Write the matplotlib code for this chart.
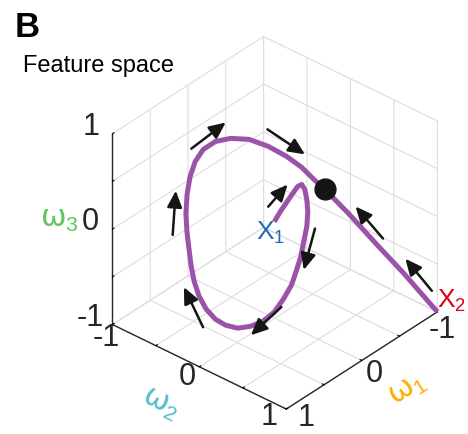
import numpy as np
import matplotlib.pyplot as plt
from matplotlib.patches import FancyArrowPatch
from mpl_toolkits.mplot3d import proj3d

plt.rcParams['font.family'] = ['Liberation Sans', 'DejaVu Sans']
plt.rcParams['mathtext.fontset'] = 'custom'
plt.rcParams['mathtext.rm'] = 'Liberation Sans'
plt.rcParams['mathtext.it'] = 'Liberation Sans'
plt.rcParams['mathtext.sf'] = 'Liberation Sans'

# trajectory from X1 round the loop into the fixed point (w1, w2, w3)
traj1_w1 = [0.128, 0.082, 0.037, -0.009, -0.046, -0.073, -0.087, -0.091, -0.087, -0.068,
            -0.036, -0.005, 0.031, 0.075, 0.137, 0.205, 0.281, 0.360, 0.443, 0.515,
            0.573, 0.621, 0.654, 0.672, 0.677, 0.676, 0.674, 0.665, 0.642, 0.608,
            0.564, 0.504, 0.422, 0.326, 0.214, 0.101, -0.003, -0.087, -0.157, -0.212]
traj1_w2 = [0.104, 0.134, 0.165, 0.196, 0.222, 0.246, 0.268, 0.288, 0.303, 0.308,
            0.300, 0.293, 0.277, 0.257, 0.217, 0.170, 0.108, 0.037, -0.043, -0.120,
            -0.187, -0.251, -0.304, -0.346, -0.377, -0.401, -0.426, -0.446, -0.453, -0.448,
            -0.427, -0.387, -0.317, -0.226, -0.112, 0.012, 0.132, 0.233, 0.324, 0.393]
traj1_w3 = [0.122, 0.218, 0.303, 0.388, 0.455, 0.473, 0.423, 0.324, 0.207, 0.061,
            -0.084, -0.229, -0.355, -0.499, -0.633, -0.756, -0.840, -0.884, -0.898, -0.864,
            -0.802, -0.700, -0.571, -0.422, -0.265, -0.108, 0.059, 0.235, 0.420, 0.594,
            0.739, 0.853, 0.926, 0.950, 0.933, 0.857, 0.752, 0.639, 0.507, 0.415]

# trajectory from X2 into the fixed point
traj2_w1 = [-1.0, -0.766, -0.574, -0.384, -0.212]
traj2_w2 = [1.0, 0.811, 0.664, 0.524, 0.393]
traj2_w3 = [-1.0, -0.555, -0.217, 0.123, 0.415]

fixed_pt = (-0.212, 0.393, 0.415)

# flow arrows: tail and head
arrow_tail = [(0.354, -0.654, 0.667), (-0.061, -0.139, 0.886), (0.148, 0.052, 0.267),
              (0.763, -0.513, 0.034), (-0.113, 0.363, 0.042), (0.201, 0.249, -0.670),
              (0.683, -0.233, -0.850), (-0.612, 0.712, -0.162), (-0.966, 0.966, -0.777)]
arrow_head = [(0.142, -0.442, 0.927), (-0.292, 0.092, 0.608), (0.029, 0.171, 0.491),
              (0.744, -0.494, 0.496), (-0.044, 0.294, -0.386), (0.389, 0.061, -0.953),
              (0.801, -0.351, -0.422), (-0.443, 0.543, 0.185), (-0.803, 0.803, -0.430)]

ticks = [-1, -0.5, 0, 0.5, 1]
label_vals = [-1, 0, 1]
label_txt = ['-1', '0', '1']

purple = '#9b52a9'
ink = '#262626'


class Arrow3D(FancyArrowPatch):
    def __init__(self, xs, ys, zs, *args, **kwargs):
        super().__init__((0, 0), (0, 0), *args, **kwargs)
        self._verts3d = xs, ys, zs

    def do_3d_projection(self, renderer=None):
        xs3d, ys3d, zs3d = self._verts3d
        xs, ys, zs = proj3d.proj_transform(xs3d, ys3d, zs3d, self.axes.M)
        self.set_positions((xs[0], ys[0]), (xs[1], ys[1]))
        return np.min(zs)


fig = plt.figure(figsize=(4.68, 4.35), dpi=100)
ax = fig.add_axes([0.1766, 0.044, 0.8, 0.86], projection='3d', proj_type='ortho')
ax.computed_zorder = False
ax.view_init(elev=34, azim=41)
ax.set_box_aspect((1, 1, 1), zoom=1.035)
ax.set_xlim(-1, 1)
ax.set_ylim(-1, 1)
ax.set_zlim(-1, 1)

for a in (ax.xaxis, ax.yaxis, ax.zaxis):
    a.set_pane_color((1, 1, 1, 0))
    a.pane.set_edgecolor('#d9d9d9')
    a._axinfo['grid'].update(color='#dddddd', linewidth=0.8)
    a._axinfo['tick']['inward_factor'] = 0.0
    a._axinfo['tick']['outward_factor'] = 0.12
    a.line.set_color(ink)
    a.line.set_linewidth(1.0)
    a.set_ticks(ticks)
    a.set_ticklabels([])
    for tk in a.get_major_ticks():
        tk.label1.set_visible(False)
        tk.label2.set_visible(False)
    a.label.set_visible(False)

# tick labels placed like the MATLAB original
for v, s in zip(label_vals, label_txt):
    ax.text(0.9 * v + 0.08, 1.21, -1, s, fontsize=22, color=ink, ha='center', va='center')
    ax.text(1.18, 0.94 * v + 0.02, -1, s, fontsize=22, color=ink, ha='center', va='center')
    ax.text(1, -1.25, v - 0.03, s, fontsize=22, color=ink, ha='center', va='center')

ax.plot(traj1_w1, traj1_w2, traj1_w3, color=purple, lw=3.6, solid_capstyle='butt', zorder=2)
ax.plot(traj2_w1, traj2_w2, traj2_w3, color=purple, lw=3.6, solid_capstyle='butt', zorder=2)
ax.plot([fixed_pt[0]], [fixed_pt[1]], [fixed_pt[2]], 'o', color='#151515', ms=15, zorder=4)

for t, h in zip(arrow_tail, arrow_head):
    arr = Arrow3D([t[0], h[0]], [t[1], h[1]], [t[2], h[2]],
                  arrowstyle='-|>,head_length=0.55,head_width=0.25', mutation_scale=18,
                  lw=1.8, color='#151515', shrinkA=0, shrinkB=0, zorder=3)
    ax.add_artist(arr)

ax.text(0.223, -0.023, -0.065, r'$X_1$', color='#2469b3', fontsize=19, ha='left', va='baseline')
ax.text(-0.995, 0.995, -0.95, r'$X_2$', color='#d90016', fontsize=19, ha='left', va='baseline')

# axis names, rotated along their axes
ax.text(0.071, 1.59, -1, 'ω$_1$', zdir=(-1, 0, 0), color='#ffab00', fontsize=22,
        fontfamily='DejaVu Sans', ha='center', va='center')
ax.text(1.635, 0.11, -1, 'ω$_2$', zdir=(0, 1, 0), color='#4fbfcf', fontsize=22,
        fontfamily='DejaVu Sans', ha='center', va='center')
ax.text(1, -1.61, -0.16, 'ω$_3$', color='#5ec85e', fontsize=22,
        fontfamily='DejaVu Sans', ha='center', va='center')

fig.text(0.032, 0.915, 'B', fontsize=25, fontweight='bold', ha='left', va='baseline')
fig.text(0.049, 0.834, 'Feature space', fontsize=17, ha='left', va='baseline')

fig.savefig('out.png', dpi=100)
